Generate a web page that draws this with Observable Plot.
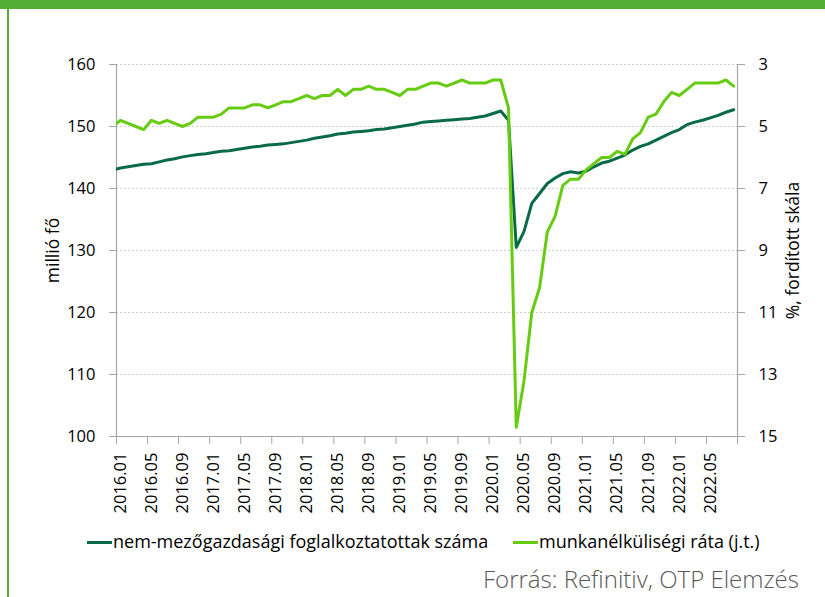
<!DOCTYPE html>
<html>
<head>
<meta charset="utf-8">
<script src="https://cdn.jsdelivr.net/npm/d3@7"></script>
<script src="https://cdn.jsdelivr.net/npm/@observablehq/plot@0.6"></script>
<style>
  html, body { margin: 0; padding: 0; background: #fff; }
  #wrap { position: relative; width: 825px; height: 597px; overflow: hidden; background: #fff; font-family: "Open Sans", sans-serif; }
  #topbar { position: absolute; left: 0; top: 0; width: 825px; height: 9px; background: #52AE32; }
  #leftbar { position: absolute; left: 7px; top: 0; width: 2px; height: 597px; background: #52AE32; }
  #chart { position: absolute; left: 0; top: 0; }
  .leg { position: absolute; top: 531px; font-size: 18px; color: #000; white-space: nowrap; line-height: 20px; }
  .sw { display: inline-block; width: 25px; height: 3px; vertical-align: middle; margin-right: 1px; position: relative; top: -1px; }
  #source { position: absolute; left: 483px; top: 563px; font-size: 24px; line-height: 32px; font-weight: 300; color: #595959; white-space: nowrap; }
</style>
</head>
<body>
<div id="wrap">
  <div id="chart"></div>
  <div id="topbar"></div>
  <div id="leftbar"></div>
  <div class="leg" style="left:87px"><span class="sw" style="background:#086B46"></span>nem-mezőgazdasági foglalkoztatottak száma</div>
  <div class="leg" style="left:513px"><span class="sw" style="background:#66CC11"></span>munkanélküliségi ráta (j.t.)</div>
  <div id="source">Forrás: Refinitiv, OTP Elemzés</div>
</div>
<script>
// first month of series (clipped, lies just before the axis start)
const startYear = 2015, startMonth = 12;

// non-farm payrolls, million persons, 2015.12 – 2022.08
const payrolls = [
  143.0,
  143.3, 143.5, 143.7, 143.9, 144.0, 144.3, 144.6, 144.8, 145.1, 145.3, 145.5, 145.6,
  145.8, 146.0, 146.1, 146.3, 146.5, 146.7, 146.8, 147.0, 147.1, 147.2, 147.4, 147.6,
  147.8, 148.1, 148.3, 148.5, 148.8, 148.9, 149.1, 149.2, 149.3, 149.5, 149.6, 149.8,
  150.0, 150.2, 150.4, 150.7, 150.8, 150.9, 151.0, 151.1, 151.2, 151.3, 151.5, 151.7,
  152.1, 152.5, 151.0, 130.5, 133.1, 137.6, 139.2, 140.8, 141.7, 142.4, 142.7, 142.5,
  142.8, 143.5, 144.1, 144.4, 144.9, 145.4, 146.2, 146.8, 147.2, 147.8, 148.4, 149.0,
  149.5, 150.3, 150.7, 151.0, 151.4, 151.8, 152.3, 152.7
];

// unemployment rate, %, 2015.12 – 2022.08 (right axis, inverted)
const unemployment = [
  5.0,
  4.8, 4.9, 5.0, 5.1, 4.8, 4.9, 4.8, 4.9, 5.0, 4.9, 4.7, 4.7,
  4.7, 4.6, 4.4, 4.4, 4.4, 4.3, 4.3, 4.4, 4.3, 4.2, 4.2, 4.1,
  4.0, 4.1, 4.0, 4.0, 3.8, 4.0, 3.8, 3.8, 3.7, 3.8, 3.8, 3.9,
  4.0, 3.8, 3.8, 3.7, 3.6, 3.6, 3.7, 3.6, 3.5, 3.6, 3.6, 3.6,
  3.5, 3.5, 4.4, 14.7, 13.2, 11.0, 10.2, 8.4, 7.9, 6.9, 6.7, 6.7,
  6.4, 6.2, 6.0, 6.0, 5.8, 5.9, 5.4, 5.2, 4.7, 4.6, 4.2, 3.9,
  4.0, 3.8, 3.6, 3.6, 3.6, 3.6, 3.5, 3.7
];

// x-axis tick labels (every 4th month)
const tickLabels = [
  "2016.01", "2016.05", "2016.09", "2017.01", "2017.05", "2017.09",
  "2018.01", "2018.05", "2018.09", "2019.01", "2019.05", "2019.09",
  "2020.01", "2020.05", "2020.09", "2021.01", "2021.05", "2021.09",
  "2022.01", "2022.05"
];

const leftTicks = [100, 110, 120, 130, 140, 150, 160];
const rightTicks = [3, 5, 7, 9, 11, 13, 15];

// left axis: 100..160 ; right axis: 15..3 (inverted)
const rMin = 3, rMax = 15, lMin = 100, lMax = 160;
const toLeft = u => lMax - (u - rMin) * (lMax - lMin) / (rMax - rMin);
const fromLeft = v => rMin + (lMax - v) * (rMax - rMin) / (lMax - lMin);

// month index relative to 2016.01 (band centre at i + 0.5)
const offset = (startYear - 2016) * 12 + (startMonth - 1);
const dataPay = payrolls.map((v, i) => ({x: offset + i + 0.5, y: v}));
const dataUne = unemployment.map((v, i) => ({x: offset + i + 0.5, y: toLeft(v)}));
const nMonths = 80;
const tickPos = d3.range(0, nMonths + 1, 4);
const labelData = tickLabels.map((t, i) => ({x: i * 4 + 0.5, t}));

const fontFam = '"Open Sans", sans-serif';

const chart = Plot.plot({
  width: 825,
  height: 520,
  marginLeft: 116,
  marginRight: 88,
  marginTop: 64,
  marginBottom: 84,
  style: {fontFamily: fontFam, background: "transparent", overflow: "visible"},
  x: {domain: [0, nMonths], axis: null},
  y: {domain: [lMin, lMax], axis: null},
  marks: [
    Plot.ruleY(leftTicks.filter(d => d > lMin), {stroke: "#cfcfcf", strokeWidth: 1, strokeDasharray: "2,2"}),
    Plot.ruleX([0], {stroke: "#a6a6a6", strokeWidth: 1.2}),
    Plot.ruleX([nMonths], {stroke: "#a6a6a6", strokeWidth: 1.2}),
    Plot.ruleY([lMin], {stroke: "#a6a6a6", strokeWidth: 1.2}),
    // left axis ticks + labels
    Plot.axisY({anchor: "left", ticks: leftTicks, tickSize: 7, tickFormat: () => "", stroke: "#a6a6a6", label: null}),
    Plot.axisY({anchor: "left", ticks: leftTicks, tickSize: 0, tickPadding: 21, fontSize: 16.5, fill: "#000", label: null}),
    // right axis ticks + labels (inverted %)
    Plot.axisY({anchor: "right", ticks: rightTicks.map(toLeft), tickSize: 7, tickFormat: () => "", stroke: "#a6a6a6", label: null}),
    Plot.axisY({anchor: "right", ticks: rightTicks.map(toLeft), tickSize: 0, tickPadding: 21, fontSize: 16.5, fill: "#000", label: null, tickFormat: v => String(Math.round(fromLeft(v)))}),
    // bottom axis ticks
    Plot.axisX({anchor: "bottom", ticks: tickPos, tickSize: 8, tickFormat: () => "", stroke: "#a6a6a6", label: null}),
    Plot.text(labelData, {x: "x", y: () => lMin, text: "t", rotate: -90, textAnchor: "end", dy: 16, fontSize: 16.5, fill: "#000"}),
    // axis titles
    Plot.text(["millió fő"], {frameAnchor: "left", dx: -63, rotate: -90, fontSize: 17.5, fill: "#000", textAnchor: "middle"}),
    Plot.text(["%, fordított skála"], {frameAnchor: "right", dx: 56, rotate: -90, fontSize: 17.5, fill: "#000", textAnchor: "middle"}),
    // series
    Plot.line(dataPay, {x: "x", y: "y", stroke: "#086B46", strokeWidth: 3, clip: true}),
    Plot.line(dataUne, {x: "x", y: "y", stroke: "#66CC11", strokeWidth: 3, clip: true})
  ]
});
document.getElementById("chart").appendChild(chart);
</script>
</body>
</html>
